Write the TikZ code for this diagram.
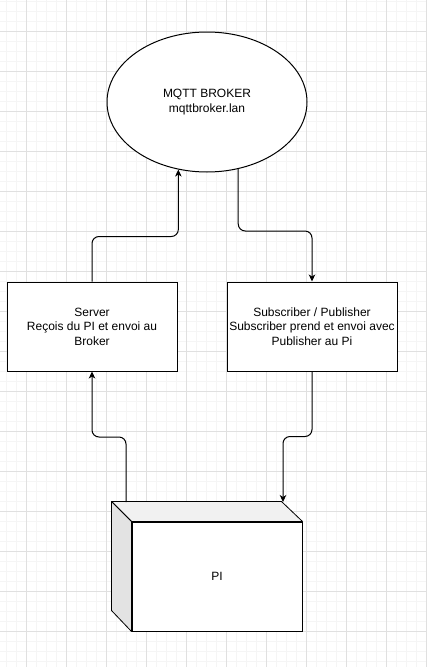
\documentclass[tikz,border=0pt]{standalone}
\usepackage{fontspec}
\setmainfont{Liberation Sans}
\usetikzlibrary{shapes.geometric,arrows.meta}
\definecolor{gridminor}{HTML}{F5F5F5}
\definecolor{gridmajor}{HTML}{E0E0E0}
\definecolor{topface}{HTML}{F1F1F1}
\definecolor{sideface}{HTML}{E3E3E3}
\begin{document}
\begin{tikzpicture}[x=1pt,y=-1pt,
  txt/.style={align=center, font=\fontsize{12}{14.5}\selectfont, inner sep=0pt},
  box/.style={txt, draw, line width=1pt, fill=white, minimum width=170pt, minimum height=89pt},
  arr/.style={draw, line width=1pt, rounded corners=7pt, -{Stealth[length=7pt,width=6.5pt,inset=2pt]}},
  minor/.style={draw=gridminor, line width=1pt},
  major/.style={draw=gridmajor, line width=1pt},
  face/.style={draw, line width=0.8pt, line join=round},
]
\useasboundingbox (0,0) rectangle (427,667);
\fill[white] (0,0) rectangle (427,667);
\foreach \x in {6.5,16.5,...,427} \draw[minor] (\x,0) -- (\x,667);
\foreach \y in {1.5,11.5,...,667} \draw[minor] (0,\y) -- (427,\y);
\foreach \x in {26.5,66.5,...,427} \draw[major] (\x,0) -- (\x,667);
\foreach \y in {31.5,71.5,...,667} \draw[major] (0,\y) -- (427,\y);

\node[txt, ellipse, draw, line width=1pt, fill=white, minimum width=200pt, minimum height=140pt] (broker) at (207,102) {MQTT BROKER\\mqttbroker.lan};
\node[box] (server) at (92,326.5) {Server\\Reçois du PI et envoi au\\Broker};
\node[box] (sub) at (312,326.5) {Subscriber / Publisher\\Subscriber prend et envoi avec\\Publisher au Pi};

\node[txt, draw, line width=1pt, fill=white, minimum width=170pt, minimum height=109pt] (pi) at (217,576.5) {PI};
\filldraw[face, fill=topface] (pi.north west) -- ++(-20,-20) -- ++(170,0) -- (pi.north east) -- cycle;
\filldraw[face, fill=sideface] (pi.north west) -- ++(-20,-20) -- ++(0,109) -- (pi.south west) -- cycle;
\coordinate (piL) at (126,502);
\coordinate (piR) at (283,502);

\draw[arr] (server.north) -- ++(0,-45) -| (broker.-113.4);
\draw[arr] (broker.-65) -- ++(0,62) -| (sub.north);
\draw[arr] (piL) -- ++(0,-65) -| (server.south);
\draw[arr] (sub.south) -- ++(0,65) -| (piR);
\end{tikzpicture}
\end{document}
